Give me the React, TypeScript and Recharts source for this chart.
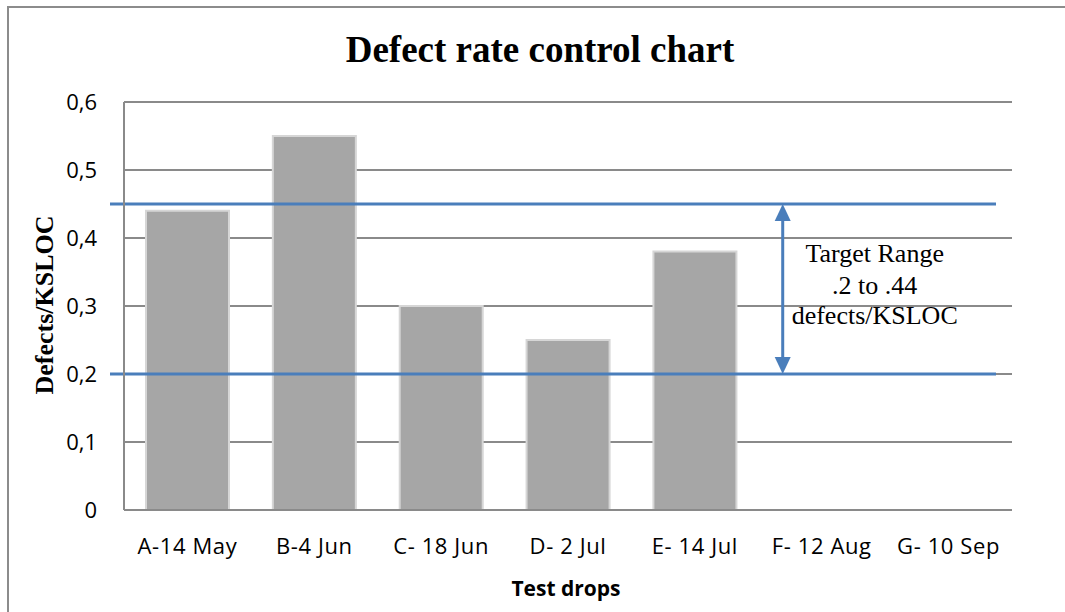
import React from 'react';
import { BarChart, Bar, XAxis, YAxis, CartesianGrid, ReferenceLine, Customized } from 'recharts';

const categories = ['A-14 May', 'B-4 Jun', 'C- 18 Jun', 'D- 2 Jul', 'E- 14 Jul', 'F- 12 Aug', 'G- 10 Sep'];
const defectRates: (number | null)[] = [0.44, 0.55, 0.3, 0.25, 0.38, null, null];
const yTicks = [0, 0.1, 0.2, 0.3, 0.4, 0.5, 0.6];
const targetUpper = 0.45;
const targetLower = 0.2;
const arrowCategory = 'F- 12 Aug';
const targetLabel = ['Target Range', '.2 to .44', 'defects/KSLOC'];
const titleText = 'Defect rate control chart';
const yTitle = 'Defects/KSLOC';
const xTitle = 'Test drops';

const data = categories.map((c, i) => ({ name: c, rate: defectRates[i] }));

const BLUE = '#4a7ebb';
const GRID = '#8a8a8a';
const SERIF = '"Liberation Serif", "Times New Roman", serif';
const SANS = '"Open Sans", "Liberation Sans", sans-serif';

const ExtLine = (p: any) => (
  <line x1={p.x1 - 14} y1={p.y1} x2={p.x2 - 16} y2={p.y2} stroke={BLUE} strokeWidth={3} />
);

const ArrowShape = (p: any) => {
  const x = p.x1 - 39;
  const top = Math.min(p.y1, p.y2);
  const bot = Math.max(p.y1, p.y2);
  const head = 17;
  const hw = 8;
  const mid = (top + bot) / 2;
  const tx = x + 92;
  return (
    <g>
      <line x1={x} y1={top + head - 2} x2={x} y2={bot - head + 2} stroke={BLUE} strokeWidth={3} />
      <polygon points={`${x},${top} ${x - hw},${top + head} ${x + hw},${top + head}`} fill={BLUE} />
      <polygon points={`${x},${bot} ${x - hw},${bot - head} ${x + hw},${bot - head}`} fill={BLUE} />
      <text fontFamily={SERIF} fontSize={26} fill="#000" textAnchor="middle">
        <tspan x={tx} y={mid - 27}>{targetLabel[0]}</tspan>
        <tspan x={tx} y={mid + 5}>{targetLabel[1]}</tspan>
        <tspan x={tx} y={mid + 35}>{targetLabel[2]}</tspan>
      </text>
    </g>
  );
};

const Titles = () => (
  <g>
    <text x={540} y={62} textAnchor="middle" fontFamily={SERIF} fontWeight="bold" fontSize={37} fill="#000">
      {titleText}
    </text>
    <text
      x={53}
      y={305}
      transform="rotate(-90, 53, 305)"
      textAnchor="middle"
      fontFamily={SERIF}
      fontWeight="bold"
      fontSize={26}
      fill="#000"
    >
      {yTitle}
    </text>
    <text x={566} y={596} textAnchor="middle" fontFamily={SANS} fontWeight="bold" fontSize={21} fill="#000">
      {xTitle}
    </text>
  </g>
);

export default function App() {
  return (
    <div style={{ position: 'absolute', left: 0, top: 0, width: 1065, height: 612, overflow: 'hidden', background: '#fff' }}>
      <div
        style={{
          position: 'absolute',
          left: 7,
          top: 6,
          width: 2000,
          height: 2000,
          borderLeft: '2px solid #8c8c8c',
          borderTop: '2px solid #8c8c8c',
        }}
      />
      <div style={{ position: 'absolute', left: 0, top: 0 }}>
        <BarChart
          width={1065}
          height={612}
          data={data}
          margin={{ top: 102, right: 53, bottom: 42, left: 64 }}
        >
          <CartesianGrid vertical={false} stroke={GRID} strokeWidth={2} />
          <XAxis
            dataKey="name"
            height={60}
            axisLine={{ stroke: GRID, strokeWidth: 2 }}
            tickLine={false}
            tickSize={0}
            tickMargin={28}
            interval={0}
            tick={{ fontFamily: SANS, fontSize: 22, fill: '#000', letterSpacing: 0.6 }}
          />
          <YAxis
            width={60}
            domain={[0, 0.6]}
            ticks={yTicks}
            interval={0}
            axisLine={{ stroke: GRID, strokeWidth: 2 }}
            tickLine={false}
            tickSize={0}
            tickMargin={27}
            tickFormatter={(v: number) => String(Math.round(v * 10) / 10).replace('.', ',')}
            tick={{ fontFamily: SANS, fontSize: 22, fill: '#000' }}
          />
          <Bar
            dataKey="rate"
            fill="#a6a6a6"
            stroke="#d6d6d6"
            strokeWidth={2}
            barSize={83}
            isAnimationActive={false}
          />
          <ReferenceLine y={targetUpper} shape={ExtLine} />
          <ReferenceLine y={targetLower} shape={ExtLine} />
          <ReferenceLine
            segment={[
              { x: arrowCategory, y: targetUpper },
              { x: arrowCategory, y: targetLower },
            ]}
            shape={ArrowShape}
          />
          <Customized component={<Titles />} />
        </BarChart>
      </div>
    </div>
  );
}
